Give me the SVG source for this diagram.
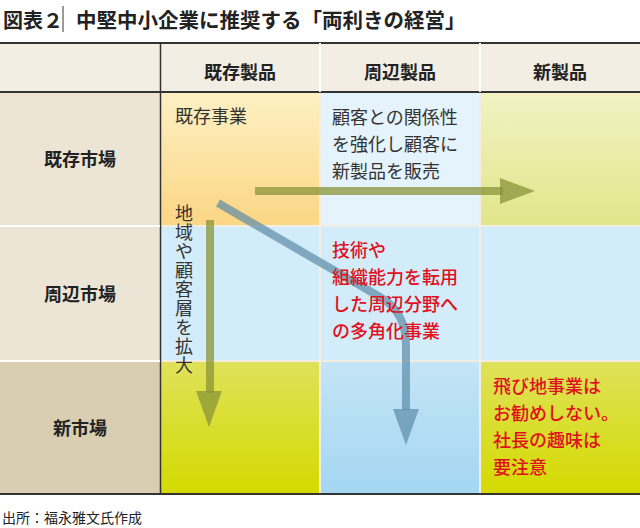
<svg xmlns="http://www.w3.org/2000/svg" width="640" height="528" viewBox="0 0 640 528">
<style>
text{font-family:"Noto Sans CJK JP","Noto Sans",sans-serif;fill:#222}
.h{font-size:18px;font-weight:bold;text-anchor:middle}
.c{font-size:18px;fill:#333}
.r{font-size:18px;fill:#e01020;font-weight:500}
</style>
<defs>
<linearGradient id="g1" x1="0" y1="0" x2="0" y2="1"><stop offset="0" stop-color="#fdf0c4"/><stop offset="1" stop-color="#fbd684"/></linearGradient>
<linearGradient id="g2" x1="0" y1="0" x2="0" y2="1"><stop offset="0" stop-color="#f2f2c4"/><stop offset="1" stop-color="#e2e68a"/></linearGradient>
<linearGradient id="g3" x1="0" y1="0" x2="0" y2="1"><stop offset="0" stop-color="#dfe25a"/><stop offset="1" stop-color="#d4da00"/></linearGradient>
<linearGradient id="g4" x1="0" y1="0" x2="0" y2="1"><stop offset="0" stop-color="#c4e5f6"/><stop offset="1" stop-color="#a4d6f2"/></linearGradient>
</defs>
<g id="title">
<text x="3" y="28" style="font-size:20px;font-weight:bold">図表２</text>
<line x1="63" y1="6" x2="63" y2="32" stroke="#555" stroke-width="1.2"/>
<text x="76" y="28" style="font-size:20.5px;font-weight:bold">中堅中小企業に推奨する「両利きの経営」</text>
</g>
<g id="table">
<rect x="0" y="42" width="640" height="452" fill="#f3eee3"/>
<rect x="0" y="92" width="160" height="268" fill="#ece5d6"/>
<rect x="0" y="361" width="160" height="133" fill="#d9ceb1"/>
<rect x="161" y="92" width="158" height="133" fill="url(#g1)"/>
<rect x="321" y="92" width="158" height="133" fill="#e4f3fc"/>
<rect x="481" y="92" width="159" height="133" fill="url(#g2)"/>
<rect x="161" y="227" width="158" height="133" fill="#d2ecf9"/>
<rect x="321" y="227" width="158" height="133" fill="#d2ecf9"/>
<rect x="481" y="227" width="159" height="133" fill="#d2ecf9"/>
<rect x="161" y="362" width="158" height="132" fill="url(#g3)"/>
<rect x="321" y="362" width="158" height="132" fill="url(#g4)"/>
<rect x="481" y="362" width="159" height="132" fill="url(#g3)"/>
<line x1="0" y1="43" x2="640" y2="43" stroke="#333" stroke-width="2"/>
<line x1="0" y1="92" x2="640" y2="92" stroke="#333" stroke-width="2"/>
<line x1="0" y1="494" x2="640" y2="494" stroke="#333" stroke-width="2"/>
<line x1="160.5" y1="43" x2="160.5" y2="494" stroke="#333" stroke-width="1.5"/>
<line x1="0" y1="226" x2="160" y2="226" stroke="#fff" stroke-width="2"/>
<line x1="0" y1="361" x2="160" y2="361" stroke="#fff" stroke-width="2"/>
<line x1="320" y1="43" x2="320" y2="92" stroke="#fff" stroke-width="2"/>
<line x1="480" y1="43" x2="480" y2="92" stroke="#fff" stroke-width="2"/>
</g>
<g id="headers">
<text class="h" x="240" y="79">既存製品</text>
<text class="h" x="400" y="79">周辺製品</text>
<text class="h" x="560" y="79">新製品</text>
<text class="h" x="80" y="166">既存市場</text>
<text class="h" x="80" y="301">周辺市場</text>
<text class="h" x="80" y="435">新市場</text>
</g>
<g id="connectors">
<path d="M255 191 H503" stroke="#8a9438" stroke-width="8" fill="none" opacity="0.75"/>
<polygon points="500,178 535,191 500,204" fill="#8a9438" opacity="0.75"/>
<path d="M210 220 V393" stroke="#8a9438" stroke-width="8" fill="none" opacity="0.75"/>
<polygon points="196,391 222,391 209,427" fill="#8a9438" opacity="0.75"/>
<path d="M218 203 L380 297 Q406 312 406 345 V410" stroke="#5b8ca8" stroke-width="8" fill="none" opacity="0.7"/>
<polygon points="393,409 419,409 406,445" fill="#5b8ca8" opacity="0.7"/>
</g>
<g id="cells">
<text class="c" x="175" y="123">既存事業</text>
<text class="c" x="332" y="124">顧客との関係性</text>
<text class="c" x="332" y="151">を強化し顧客に</text>
<text class="c" x="332" y="178">新製品を販売</text>
<text class="c" x="184" y="204" style="writing-mode:vertical-rl;letter-spacing:1px">地域や顧客層を拡大</text>
<text class="r" x="332" y="257">技術や</text>
<text class="r" x="332" y="284">組織能力を転用</text>
<text class="r" x="332" y="311">した周辺分野へ</text>
<text class="r" x="332" y="338">の多角化事業</text>
<text class="r" x="493" y="393">飛び地事業は</text>
<text class="r" x="493" y="420">お勧めしない。</text>
<text class="r" x="493" y="447">社長の趣味は</text>
<text class="r" x="493" y="474">要注意</text>
</g>
<text x="2" y="523" style="font-size:14px">出所：福永雅文氏作成</text>
</svg>
